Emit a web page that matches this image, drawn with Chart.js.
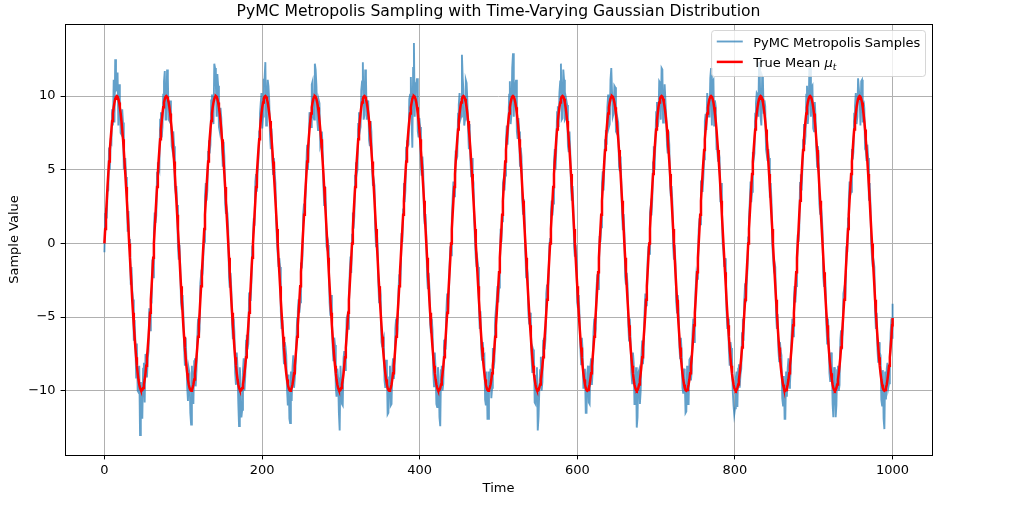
<!DOCTYPE html>
<html>
<head>
<meta charset="utf-8">
<script src="https://cdn.jsdelivr.net/npm/chart.js@4.4.1/dist/chart.umd.min.js"></script>
<style>
html,body{margin:0;padding:0;background:#ffffff;}
#wrap{width:1024px;height:519px;}
canvas{display:block;}
</style>
</head>
<body>
<div id="wrap"><canvas id="c" width="1024" height="519"></canvas></div>
<script>
// ---------------- DATA ----------------
const time = [
0,1.0,2.0,3.0,3.9,4.9,5.9,6.9,7.9,8.9,9.8,10.8,11.8,12.8,13.7,14.7,15.7,16.7,17.7,18.7,19.6,20.6,21.6,22.6,23.6,24.6,25.5,26.5,27.5,28.5,29.5,30.5,31.4,32.4,33.4,34.4,35.3,36.3,37.3,38.3,39.3,40.3,41.2,42.2,43.2,44.2,45.2,46.2,47.1,48.1,49.1,50.1,51.1,52.1,53.0,54.0,55.0,56.0,56.9,57.9,58.9,59.9,60.9,61.9,
62.8,63.8,64.8,65.8,66.8,67.8,68.7,69.7,70.7,71.7,72.7,73.7,74.6,75.6,76.6,77.6,78.5,79.5,80.5,81.5,82.5,83.5,84.4,85.4,86.4,87.4,88.4,89.4,90.3,91.3,92.3,93.3,94.3,95.3,96.2,97.2,98.2,99.2,100.1,101.1,102.1,103.1,104.1,105.1,106.0,107.0,108.0,109.0,110.0,111.0,111.9,112.9,113.9,114.9,115.8,116.8,117.8,118.8,119.8,120.8,121.7,122.7,123.7,124.7,
125.7,126.7,127.6,128.6,129.6,130.6,131.6,132.6,133.5,134.5,135.5,136.5,137.4,138.4,139.4,140.4,141.4,142.4,143.3,144.3,145.3,146.3,147.3,148.3,149.2,150.2,151.2,152.2,153.2,154.2,155.1,156.1,157.1,158.1,159.0,160.0,161.0,162.0,163.0,164.0,164.9,165.9,166.9,167.9,168.9,169.9,170.8,171.8,172.8,173.8,174.8,175.8,176.7,177.7,178.7,179.7,180.6,181.6,182.6,183.6,184.6,185.6,186.5,187.5,
188.5,189.5,190.5,191.5,192.4,193.4,194.4,195.4,196.4,197.4,198.3,199.3,200.3,201.3,202.2,203.2,204.2,205.2,206.2,207.2,208.1,209.1,210.1,211.1,212.1,213.1,214.0,215.0,216.0,217.0,218.0,219.0,219.9,220.9,221.9,222.9,223.8,224.8,225.8,226.8,227.8,228.8,229.7,230.7,231.7,232.7,233.7,234.7,235.6,236.6,237.6,238.6,239.6,240.6,241.5,242.5,243.5,244.5,245.4,246.4,247.4,248.4,249.4,250.4,
251.3,252.3,253.3,254.3,255.3,256.3,257.2,258.2,259.2,260.2,261.2,262.2,263.1,264.1,265.1,266.1,267.0,268.0,269.0,270.0,271.0,272.0,272.9,273.9,274.9,275.9,276.9,277.9,278.8,279.8,280.8,281.8,282.8,283.8,284.7,285.7,286.7,287.7,288.6,289.6,290.6,291.6,292.6,293.6,294.5,295.5,296.5,297.5,298.5,299.5,300.4,301.4,302.4,303.4,304.3,305.3,306.3,307.3,308.3,309.3,310.2,311.2,312.2,313.2,
314.2,315.2,316.1,317.1,318.1,319.1,320.1,321.1,322.0,323.0,324.0,325.0,325.9,326.9,327.9,328.9,329.9,330.9,331.8,332.8,333.8,334.8,335.8,336.8,337.7,338.7,339.7,340.7,341.7,342.7,343.6,344.6,345.6,346.6,347.5,348.5,349.5,350.5,351.5,352.5,353.4,354.4,355.4,356.4,357.4,358.4,359.3,360.3,361.3,362.3,363.3,364.3,365.2,366.2,367.2,368.2,369.1,370.1,371.1,372.1,373.1,374.1,375.0,376.0,
377.0,378.0,379.0,380.0,380.9,381.9,382.9,383.9,384.8,385.8,386.8,387.8,388.8,389.8,390.7,391.7,392.7,393.7,394.7,395.7,396.6,397.6,398.6,399.6,400.6,401.6,402.5,403.5,404.5,405.5,406.4,407.4,408.4,409.4,410.4,411.4,412.3,413.3,414.3,415.3,416.3,417.3,418.2,419.2,420.2,421.2,422.2,423.2,424.1,425.1,426.1,427.1,428.0,429.0,430.0,431.0,432.0,433.0,433.9,434.9,435.9,436.9,437.9,438.9,
439.8,440.8,441.8,442.8,443.8,444.8,445.7,446.7,447.7,448.7,449.6,450.6,451.6,452.6,453.6,454.6,455.5,456.5,457.5,458.5,459.5,460.5,461.4,462.4,463.4,464.4,465.4,466.4,467.3,468.3,469.3,470.3,471.2,472.2,473.2,474.2,475.2,476.2,477.1,478.1,479.1,480.1,481.1,482.1,483.0,484.0,485.0,486.0,486.9,487.9,488.9,489.9,490.9,491.9,492.8,493.8,494.8,495.8,496.8,497.8,498.7,499.7,500.7,501.7,
502.7,503.7,504.6,505.6,506.6,507.6,508.5,509.5,510.5,511.5,512.5,513.5,514.4,515.4,516.4,517.4,518.4,519.4,520.3,521.3,522.3,523.3,524.3,525.3,526.2,527.2,528.2,529.2,530.1,531.1,532.1,533.1,534.1,535.1,536.0,537.0,538.0,539.0,540.0,541.0,541.9,542.9,543.9,544.9,545.9,546.9,547.8,548.8,549.8,550.8,551.7,552.7,553.7,554.7,555.7,556.7,557.6,558.6,559.6,560.6,561.6,562.6,563.5,564.5,
565.5,566.5,567.5,568.5,569.4,570.4,571.4,572.4,573.3,574.3,575.3,576.3,577.3,578.3,579.2,580.2,581.2,582.2,583.2,584.2,585.1,586.1,587.1,588.1,589.1,590.1,591.0,592.0,593.0,594.0,594.9,595.9,596.9,597.9,598.9,599.9,600.8,601.8,602.8,603.8,604.8,605.8,606.7,607.7,608.7,609.7,610.7,611.7,612.6,613.6,614.6,615.6,616.5,617.5,618.5,619.5,620.5,621.5,622.4,623.4,624.4,625.4,626.4,627.4,
628.3,629.3,630.3,631.3,632.3,633.3,634.2,635.2,636.2,637.2,638.1,639.1,640.1,641.1,642.1,643.1,644.0,645.0,646.0,647.0,648.0,649.0,649.9,650.9,651.9,652.9,653.9,654.9,655.8,656.8,657.8,658.8,659.7,660.7,661.7,662.7,663.7,664.7,665.6,666.6,667.6,668.6,669.6,670.6,671.5,672.5,673.5,674.5,675.4,676.4,677.4,678.4,679.4,680.4,681.3,682.3,683.3,684.3,685.3,686.3,687.2,688.2,689.2,690.2,
691.2,692.2,693.1,694.1,695.1,696.1,697.0,698.0,699.0,700.0,701.0,702.0,702.9,703.9,704.9,705.9,706.9,707.9,708.8,709.8,710.8,711.8,712.8,713.8,714.7,715.7,716.7,717.7,718.6,719.6,720.6,721.6,722.6,723.6,724.5,725.5,726.5,727.5,728.5,729.5,730.4,731.4,732.4,733.4,734.4,735.4,736.3,737.3,738.3,739.3,740.2,741.2,742.2,743.2,744.2,745.2,746.1,747.1,748.1,749.1,750.1,751.1,752.0,753.0,
754.0,755.0,755.9,756.9,757.9,758.9,759.9,760.9,761.8,762.8,763.8,764.8,765.8,766.8,767.7,768.7,769.7,770.7,771.7,772.7,773.6,774.6,775.6,776.6,777.5,778.5,779.5,780.5,781.5,782.5,783.4,784.4,785.4,786.4,787.4,788.4,789.3,790.3,791.3,792.3,793.3,794.3,795.2,796.2,797.2,798.2,799.1,800.1,801.1,802.1,803.1,804.1,805.0,806.0,807.0,808.0,809.0,810.0,810.9,811.9,812.9,813.9,814.9,815.9,
816.8,817.8,818.8,819.8,820.7,821.7,822.7,823.7,824.7,825.7,826.6,827.6,828.6,829.6,830.6,831.6,832.5,833.5,834.5,835.5,836.4,837.4,838.4,839.4,840.4,841.4,842.3,843.3,844.3,845.3,846.3,847.3,848.2,849.2,850.2,851.2,852.2,853.2,854.1,855.1,856.1,857.1,858.0,859.0,860.0,861.0,862.0,863.0,863.9,864.9,865.9,866.9,867.9,868.9,869.8,870.8,871.8,872.8,873.8,874.8,875.7,876.7,877.7,878.7,
879.7,880.7,881.6,882.6,883.6,884.6,885.5,886.5,887.5,888.5,889.5,890.5,891.4,892.4,893.4,894.4,895.4,896.4,897.3,898.3,899.3,900.3,901.3,902.3,903.2,904.2,905.2,906.2,907.1,908.1,909.1,910.1,911.1,912.1,913.0,914.0,915.0,916.0,917.0,918.0,918.9,919.9,920.9,921.9,922.9,923.9,924.8,925.8,926.8,927.8,928.7,929.7,930.7,931.7,932.7,933.7,934.6,935.6,936.6,937.6,938.6,939.6,940.5,941.5,
942.5,943.5,944.4,945.4,946.4,947.4,948.4,949.4,950.3,951.3,952.3,953.3,954.3,955.3,956.2,957.2,958.2,959.2,960.2,961.2,962.1,963.1,964.1,965.1,966.0,967.0,968.0,969.0,970.0,971.0,971.9,972.9,973.9,974.9,975.9,976.9,977.8,978.8,979.8,980.8,981.8,982.8,983.7,984.7,985.7,986.7,987.6,988.6,989.6,990.6,991.6,992.6,993.5,994.5,995.5,996.5,997.5,998.5,999.4,1000
];

const samples = [
-0.6,2.0,2.4,1.7,3.5,3.6,6.5,5.0,6.9,6.8,9.1,8.0,11.1,8.2,12.5,10.4,10.5,11.6,8.0,10.8,9.8,7.5,7.4,9.1,8.2,5.1,5.1,5.8,4.5,3.9,0.8,2.2,0.3,0.0,-2.8,-1.6,-3.2,-3.8,-6.6,-5.2,-6.7,-9.1,-6.8,-10.0,-10.1,-8.3,-13.0,-9.4,-11.1,-11.9,-8.5,-8.1,-10.8,-7.5,-7.8,-9.1,-7.8,-7.3,-4.4,-5.9,-4.2,-4.0,-1.1,-2.3,
0.8,2.1,1.4,1.9,4.8,5.5,5.2,5.0,8.4,8.9,7.2,7.9,10.1,11.0,11.7,8.4,8.4,11.8,11.2,8.4,8.3,9.7,8.5,6.6,6.3,7.6,6.6,3.9,3.5,3.9,2.6,-0.2,-1.1,-0.1,-1.5,-4.0,-4.5,-3.5,-4.7,-7.0,-8.3,-6.4,-7.9,-9.8,-10.7,-8.5,-8.8,-11.5,-12.3,-8.3,-10.2,-10.9,-8.0,-7.8,-9.7,-8.6,-6.5,-5.1,-6.4,-5.8,-2.7,-2.1,-2.3,-2.0,
-0.5,0.1,3.2,4.1,2.9,3.6,6.2,7.0,6.1,6.7,9.7,10.1,8.7,8.1,12.2,11.9,10.8,8.6,11.5,10.7,7.9,7.6,9.2,8.5,6.5,5.2,6.9,5.9,2.7,2.0,2.4,2.0,0.9,-2.3,-3.0,-2.0,-3.1,-5.5,-6.5,-5.1,-6.0,-8.8,-9.6,-7.4,-8.4,-10.9,-12.4,-8.4,-9.4,-11.8,-11.3,-8.6,-7.8,-10.0,-9.0,-6.6,-6.2,-7.2,-6.8,-3.4,-3.3,-3.9,-2.6,-0.2,
0.4,1.7,1.2,4.2,4.7,3.5,4.9,5.7,7.6,8.8,9.5,10.2,7.8,8.6,11.1,11.2,12.3,8.0,9.2,11.1,10.7,9.7,7.3,6.4,7.8,5.6,4.7,5.8,4.8,4.1,1.5,0.0,-0.7,-1.6,-1.0,-1.6,-4.6,-5.8,-5.2,-7.2,-8.2,-6.7,-7.0,-7.6,-9.9,-11.0,-8.9,-11.9,-12.2,-8.7,-10.7,-8.5,-7.6,-9.8,-9.8,-8.5,-6.8,-5.1,-4.6,-3.8,-4.7,-4.0,-1.3,-1.7,
-0.9,2.1,2.7,1.9,3.4,5.5,6.7,5.0,6.3,8.9,8.6,7.9,10.8,11.0,8.6,8.4,12.2,11.8,10.7,8.4,7.7,9.7,9.5,6.6,6.8,7.6,6.4,3.9,2.6,3.9,2.9,-0.2,-0.4,-0.1,-1.2,-4.0,-4.9,-3.5,-5.0,-7.0,-8.0,-6.4,-6.9,-9.8,-10.4,-8.5,-9.1,-11.5,-12.7,-8.3,-9.3,-10.9,-11.0,-7.8,-7.3,-8.6,-8.1,-5.1,-4.9,-5.8,-4.4,-2.1,-0.9,-2.0,
0.6,2.1,1.0,1.9,4.6,5.5,4.7,5.0,8.1,8.9,7.6,7.9,10.4,11.0,12.3,8.4,8.7,11.8,11.4,8.4,9.4,9.7,7.0,6.6,8.3,7.6,5.0,3.9,4.3,3.9,1.0,-0.2,0.8,-0.1,-2.6,-4.0,-2.9,-3.5,-6.7,-7.0,-6.6,-6.4,-9.3,-9.8,-7.9,-8.5,-11.6,-11.5,-9.1,-8.3,-11.0,-10.9,-8.5,-7.8,-9.2,-8.6,-5.8,-5.1,-6.4,-5.8,-3.2,-2.1,-2.9,-2.0,
0.7,0.1,2.3,4.1,2.8,3.6,6.5,7.0,6.6,6.7,9.8,10.1,11.3,8.1,6.5,11.9,13.6,8.6,10.8,10.7,11.2,7.6,7.2,8.5,7.9,5.2,4.6,5.9,4.9,2.0,1.3,2.0,0.5,-2.3,-3.1,-2.0,-3.0,-5.5,-6.1,-5.1,-5.9,-8.8,-9.7,-7.4,-8.6,-10.9,-11.1,-8.4,-9.0,-11.8,-12.4,-8.6,-8.3,-10.0,-9.5,-6.6,-6.5,-7.2,-4.5,-3.4,-4.8,-3.9,-1.6,-0.2,
-0.8,1.7,3.0,4.2,3.2,3.5,6.3,5.7,5.9,8.8,9.4,10.2,8.4,8.6,12.8,11.2,10.4,8.0,8.4,11.1,10.9,9.7,7.8,6.4,8.1,5.6,4.5,5.8,4.5,4.1,1.6,0.0,-1.0,-1.6,-1.1,-1.6,-4.3,-5.8,-4.6,-7.2,-7.9,-6.7,-7.7,-7.6,-10.6,-11.0,-8.7,-11.9,-11.9,-8.7,-9.4,-8.5,-10.5,-9.8,-7.1,-8.5,-8.0,-5.1,-5.1,-3.8,-2.9,-4.0,-3.0,-1.7,
1.0,0.1,1.5,4.1,4.4,3.6,4.6,7.0,8.0,6.7,7.9,10.1,11.0,8.1,8.7,11.9,12.9,8.6,10.5,10.7,11.1,7.6,7.1,8.5,7.6,5.2,6.5,5.9,3.0,2.0,3.0,2.0,-0.6,-2.3,-1.6,-2.0,-4.8,-5.5,-4.7,-5.1,-7.7,-8.8,-7.2,-7.4,-10.8,-10.9,-9.0,-8.4,-12.7,-11.8,-10.1,-8.6,-7.7,-10.0,-9.4,-6.6,-6.4,-7.2,-6.5,-3.4,-2.8,-3.9,-2.5,-0.2,
0.3,2.1,2.9,1.9,2.7,5.5,6.4,5.0,6.4,8.9,9.3,7.9,10.2,11.0,12.2,8.4,8.5,11.8,11.1,8.4,8.5,9.7,9.4,6.6,6.2,7.6,6.3,3.9,2.9,3.9,2.6,-0.2,-0.9,-0.1,-0.9,-4.0,-4.4,-3.5,-4.9,-7.0,-8.2,-6.4,-7.3,-9.8,-9.8,-8.5,-11.5,-11.5,-8.8,-8.3,-10.8,-10.9,-8.4,-7.8,-9.6,-8.6,-6.0,-5.1,-6.2,-5.8,-3.0,-2.1,-3.1,-2.0,
0.5,0.1,1.1,4.1,4.9,3.6,5.1,7.0,7.7,6.7,9.2,10.1,7.9,8.1,11.1,11.9,11.9,8.6,8.8,10.7,10.6,7.6,7.5,8.5,8.2,5.2,4.9,5.9,4.2,2.0,0.9,2.0,0.7,-2.3,-2.8,-2.0,-2.8,-5.5,-6.6,-5.1,-6.7,-8.8,-9.5,-7.4,-8.1,-10.9,-10.9,-8.4,-12.5,-11.8,-8.8,-8.6,-10.9,-10.0,-7.7,-6.6,-8.2,-7.2,-4.7,-3.4,-4.2,-3.9,-1.2,-0.2,
-0.7,2.1,2.5,1.9,3.0,5.5,6.6,5.0,6.7,8.9,9.6,7.9,8.3,11.0,10.9,8.4,11.9,11.8,8.2,8.4,10.8,9.7,8.6,6.6,6.1,7.6,6.7,3.9,3.2,3.9,2.8,-0.2,-1.1,-0.1,-1.4,-4.0,-4.7,-3.5,-4.5,-7.0,-7.8,-6.4,-7.4,-9.8,-10.2,-8.5,-9.2,-11.5,-11.4,-8.3,-10.9,-10.9,-7.9,-7.8,-9.3,-8.6,-6.2,-5.1,-6.7,-5.8,-3.1,-2.1,-2.4,-2.0,
0.9,1.7,1.3,4.2,4.3,3.5,4.5,5.7,8.3,8.8,7.7,10.2,10.2,8.6,8.6,11.2,11.9,8.0,11.0,11.1,8.0,9.7,9.3,6.4,6.4,5.6,6.2,5.8,2.8,4.1,2.7,0.0,-0.5,-1.6,-1.0,-1.6,-4.5,-5.8,-5.1,-7.2,-8.3,-6.7,-7.1,-7.6,-10.0,-11.0,-11.6,-11.2,-9.1,-8.7,-11.1,-8.5,-8.2,-9.8,-8.9,-8.5,-6.1,-5.1,-6.6,-3.8,-2.7,-4.0,-2.8,-1.7,
0.4,1.7,2.8,4.2,2.8,3.5,6.2,5.7,6.1,8.8,9.5,10.2,10.1,8.6,12.3,11.2,8.6,8.0,11.3,11.1,8.8,9.7,9.3,6.4,6.0,5.6,6.4,5.8,3.1,4.1,3.0,0.0,-0.8,-1.6,-1.3,-1.6,-4.9,-5.8,-4.8,-7.2,-8.0,-6.7,-7.3,-7.6,-10.5,-11.0,-9.0,-11.9,-11.9,-8.7,-10.4,-8.5,-7.8,-9.8,-9.5,-8.5,-6.3,-5.1,-6.3,-3.8,-2.9,-4.0,-2.9,-1.7,
0.6,0.1,1.0,4.1,4.7,3.6,5.0,7.0,8.1,6.7,7.3,10.1,10.7,8.1,8.9,11.9,11.9,8.6,10.6,10.7,7.8,7.6,9.6,8.5,6.6,5.2,6.6,5.9,2.7,2.0,2.5,2.0,0.9,-2.3,-2.9,-2.0,-3.0,-5.5,-6.8,-5.1,-6.4,-8.8,-9.4,-7.4,-8.0,-10.9,-11.8,-8.4,-9.3,-11.8,-11.0,-8.6,-8.3,-10.0,-9.6,-6.6,-5.9,-7.2,-6.2,-3.4,-3.1,-3.9,-3.0,-0.2,
-0.6,1.7,2.9,4.2,3.3,3.5,6.4,5.7,6.2,8.8,9.3,10.2,8.1,8.6,11.2,11.2,9.8,8.0,11.0,11.1,8.2,9.7,9.2,6.4,6.3,5.6,6.7,5.8,2.9,4.1,2.6,0.0,-1.0,-1.6,-1.2,-1.6,-4.6,-5.8,-4.7,-7.2,-8.1,-6.7,-7.4,-7.6,-10.6,-11.0,-8.6,-11.9,-12.6,-8.7,-10.6,-8.5,-8.1,-9.8,-9.5,-8.5,-6.1,-5.1,-6.4,-4.1
];

const trueMean = [
0,0.98,1.95,2.90,3.83,4.71,5.56,6.34,7.07,7.73,8.31,8.82,9.24,9.57,9.81,9.95,10,9.95,9.81,9.57,9.24,8.82,8.31,7.73,7.07,6.34,5.56,4.71,3.83,2.90,1.95,0.98,0,-0.98,-1.95,-2.90,-3.83,-4.71,-5.56,-6.34,-7.07,-7.73,-8.31,-8.82,-9.24,-9.57,-9.81,-9.95,-10,-9.95,-9.81,-9.57,-9.24,-8.82,-8.31,-7.73,-7.07,-6.34,-5.56,-4.71,-3.83,-2.90,-1.95,-0.98,
0,0.98,1.95,2.90,3.83,4.71,5.56,6.34,7.07,7.73,8.31,8.82,9.24,9.57,9.81,9.95,10,9.95,9.81,9.57,9.24,8.82,8.31,7.73,7.07,6.34,5.56,4.71,3.83,2.90,1.95,0.98,0,-0.98,-1.95,-2.90,-3.83,-4.71,-5.56,-6.34,-7.07,-7.73,-8.31,-8.82,-9.24,-9.57,-9.81,-9.95,-10,-9.95,-9.81,-9.57,-9.24,-8.82,-8.31,-7.73,-7.07,-6.34,-5.56,-4.71,-3.83,-2.90,-1.95,-0.98,
0,0.98,1.95,2.90,3.83,4.71,5.56,6.34,7.07,7.73,8.31,8.82,9.24,9.57,9.81,9.95,10,9.95,9.81,9.57,9.24,8.82,8.31,7.73,7.07,6.34,5.56,4.71,3.83,2.90,1.95,0.98,0,-0.98,-1.95,-2.90,-3.83,-4.71,-5.56,-6.34,-7.07,-7.73,-8.31,-8.82,-9.24,-9.57,-9.81,-9.95,-10,-9.95,-9.81,-9.57,-9.24,-8.82,-8.31,-7.73,-7.07,-6.34,-5.56,-4.71,-3.83,-2.90,-1.95,-0.98,
0,0.98,1.95,2.90,3.83,4.71,5.56,6.34,7.07,7.73,8.31,8.82,9.24,9.57,9.81,9.95,10,9.95,9.81,9.57,9.24,8.82,8.31,7.73,7.07,6.34,5.56,4.71,3.83,2.90,1.95,0.98,0,-0.98,-1.95,-2.90,-3.83,-4.71,-5.56,-6.34,-7.07,-7.73,-8.31,-8.82,-9.24,-9.57,-9.81,-9.95,-10,-9.95,-9.81,-9.57,-9.24,-8.82,-8.31,-7.73,-7.07,-6.34,-5.56,-4.71,-3.83,-2.90,-1.95,-0.98,
0,0.98,1.95,2.90,3.83,4.71,5.56,6.34,7.07,7.73,8.31,8.82,9.24,9.57,9.81,9.95,10,9.95,9.81,9.57,9.24,8.82,8.31,7.73,7.07,6.34,5.56,4.71,3.83,2.90,1.95,0.98,0,-0.98,-1.95,-2.90,-3.83,-4.71,-5.56,-6.34,-7.07,-7.73,-8.31,-8.82,-9.24,-9.57,-9.81,-9.95,-10,-9.95,-9.81,-9.57,-9.24,-8.82,-8.31,-7.73,-7.07,-6.34,-5.56,-4.71,-3.83,-2.90,-1.95,-0.98,
0,0.98,1.95,2.90,3.83,4.71,5.56,6.34,7.07,7.73,8.31,8.82,9.24,9.57,9.81,9.95,10,9.95,9.81,9.57,9.24,8.82,8.31,7.73,7.07,6.34,5.56,4.71,3.83,2.90,1.95,0.98,0,-0.98,-1.95,-2.90,-3.83,-4.71,-5.56,-6.34,-7.07,-7.73,-8.31,-8.82,-9.24,-9.57,-9.81,-9.95,-10,-9.95,-9.81,-9.57,-9.24,-8.82,-8.31,-7.73,-7.07,-6.34,-5.56,-4.71,-3.83,-2.90,-1.95,-0.98,
0,0.98,1.95,2.90,3.83,4.71,5.56,6.34,7.07,7.73,8.31,8.82,9.24,9.57,9.81,9.95,10,9.95,9.81,9.57,9.24,8.82,8.31,7.73,7.07,6.34,5.56,4.71,3.83,2.90,1.95,0.98,0,-0.98,-1.95,-2.90,-3.83,-4.71,-5.56,-6.34,-7.07,-7.73,-8.31,-8.82,-9.24,-9.57,-9.81,-9.95,-10,-9.95,-9.81,-9.57,-9.24,-8.82,-8.31,-7.73,-7.07,-6.34,-5.56,-4.71,-3.83,-2.90,-1.95,-0.98,
0,0.98,1.95,2.90,3.83,4.71,5.56,6.34,7.07,7.73,8.31,8.82,9.24,9.57,9.81,9.95,10,9.95,9.81,9.57,9.24,8.82,8.31,7.73,7.07,6.34,5.56,4.71,3.83,2.90,1.95,0.98,0,-0.98,-1.95,-2.90,-3.83,-4.71,-5.56,-6.34,-7.07,-7.73,-8.31,-8.82,-9.24,-9.57,-9.81,-9.95,-10,-9.95,-9.81,-9.57,-9.24,-8.82,-8.31,-7.73,-7.07,-6.34,-5.56,-4.71,-3.83,-2.90,-1.95,-0.98,
0,0.98,1.95,2.90,3.83,4.71,5.56,6.34,7.07,7.73,8.31,8.82,9.24,9.57,9.81,9.95,10,9.95,9.81,9.57,9.24,8.82,8.31,7.73,7.07,6.34,5.56,4.71,3.83,2.90,1.95,0.98,0,-0.98,-1.95,-2.90,-3.83,-4.71,-5.56,-6.34,-7.07,-7.73,-8.31,-8.82,-9.24,-9.57,-9.81,-9.95,-10,-9.95,-9.81,-9.57,-9.24,-8.82,-8.31,-7.73,-7.07,-6.34,-5.56,-4.71,-3.83,-2.90,-1.95,-0.98,
0,0.98,1.95,2.90,3.83,4.71,5.56,6.34,7.07,7.73,8.31,8.82,9.24,9.57,9.81,9.95,10,9.95,9.81,9.57,9.24,8.82,8.31,7.73,7.07,6.34,5.56,4.71,3.83,2.90,1.95,0.98,0,-0.98,-1.95,-2.90,-3.83,-4.71,-5.56,-6.34,-7.07,-7.73,-8.31,-8.82,-9.24,-9.57,-9.81,-9.95,-10,-9.95,-9.81,-9.57,-9.24,-8.82,-8.31,-7.73,-7.07,-6.34,-5.56,-4.71,-3.83,-2.90,-1.95,-0.98,
0,0.98,1.95,2.90,3.83,4.71,5.56,6.34,7.07,7.73,8.31,8.82,9.24,9.57,9.81,9.95,10,9.95,9.81,9.57,9.24,8.82,8.31,7.73,7.07,6.34,5.56,4.71,3.83,2.90,1.95,0.98,0,-0.98,-1.95,-2.90,-3.83,-4.71,-5.56,-6.34,-7.07,-7.73,-8.31,-8.82,-9.24,-9.57,-9.81,-9.95,-10,-9.95,-9.81,-9.57,-9.24,-8.82,-8.31,-7.73,-7.07,-6.34,-5.56,-4.71,-3.83,-2.90,-1.95,-0.98,
0,0.98,1.95,2.90,3.83,4.71,5.56,6.34,7.07,7.73,8.31,8.82,9.24,9.57,9.81,9.95,10,9.95,9.81,9.57,9.24,8.82,8.31,7.73,7.07,6.34,5.56,4.71,3.83,2.90,1.95,0.98,0,-0.98,-1.95,-2.90,-3.83,-4.71,-5.56,-6.34,-7.07,-7.73,-8.31,-8.82,-9.24,-9.57,-9.81,-9.95,-10,-9.95,-9.81,-9.57,-9.24,-8.82,-8.31,-7.73,-7.07,-6.34,-5.56,-4.71,-3.83,-2.90,-1.95,-0.98,
0,0.98,1.95,2.90,3.83,4.71,5.56,6.34,7.07,7.73,8.31,8.82,9.24,9.57,9.81,9.95,10,9.95,9.81,9.57,9.24,8.82,8.31,7.73,7.07,6.34,5.56,4.71,3.83,2.90,1.95,0.98,0,-0.98,-1.95,-2.90,-3.83,-4.71,-5.56,-6.34,-7.07,-7.73,-8.31,-8.82,-9.24,-9.57,-9.81,-9.95,-10,-9.95,-9.81,-9.57,-9.24,-8.82,-8.31,-7.73,-7.07,-6.34,-5.56,-4.71,-3.83,-2.90,-1.95,-0.98,
0,0.98,1.95,2.90,3.83,4.71,5.56,6.34,7.07,7.73,8.31,8.82,9.24,9.57,9.81,9.95,10,9.95,9.81,9.57,9.24,8.82,8.31,7.73,7.07,6.34,5.56,4.71,3.83,2.90,1.95,0.98,0,-0.98,-1.95,-2.90,-3.83,-4.71,-5.56,-6.34,-7.07,-7.73,-8.31,-8.82,-9.24,-9.57,-9.81,-9.95,-10,-9.95,-9.81,-9.57,-9.24,-8.82,-8.31,-7.73,-7.07,-6.34,-5.56,-4.71,-3.83,-2.90,-1.95,-0.98,
0,0.98,1.95,2.90,3.83,4.71,5.56,6.34,7.07,7.73,8.31,8.82,9.24,9.57,9.81,9.95,10,9.95,9.81,9.57,9.24,8.82,8.31,7.73,7.07,6.34,5.56,4.71,3.83,2.90,1.95,0.98,0,-0.98,-1.95,-2.90,-3.83,-4.71,-5.56,-6.34,-7.07,-7.73,-8.31,-8.82,-9.24,-9.57,-9.81,-9.95,-10,-9.95,-9.81,-9.57,-9.24,-8.82,-8.31,-7.73,-7.07,-6.34,-5.56,-4.71,-3.83,-2.90,-1.95,-0.98,
0,0.98,1.95,2.90,3.83,4.71,5.56,6.34,7.07,7.73,8.31,8.82,9.24,9.57,9.81,9.95,10,9.95,9.81,9.57,9.24,8.82,8.31,7.73,7.07,6.34,5.56,4.71,3.83,2.90,1.95,0.98,0,-0.98,-1.95,-2.90,-3.83,-4.71,-5.56,-6.34,-7.07,-7.73,-8.31,-8.82,-9.24,-9.57,-9.81,-9.95,-10,-9.95,-9.81,-9.57,-9.24,-8.82,-8.31,-7.73,-7.07,-6.34,-5.56,-5.06
];

const timeTicks = [0, 200, 400, 600, 800, 1000];
const valueTicks = [-10, -5, 0, 5, 10];

const chartTitle = 'PyMC Metropolis Sampling with Time-Varying Gaussian Distribution';
const xLabel = 'Time';
const yLabel = 'Sample Value';
const sampleLabel = 'PyMC Metropolis Samples';
const meanLabel = 'True Mean ';
const meanSymbol = 'μ';
const meanSubscript = 't';

// ---------------- STYLE ----------------
const FONT = "'DejaVu Sans', 'Liberation Sans', sans-serif";
const FS = 13;
const SAMPLE_COLOR = 'rgba(31,119,180,0.7)';
const MEAN_COLOR = '#ff0000';

const fmtTick = v => (v < 0 ? '\u2212' + Math.abs(v) : String(v));

const framePlugin = {
  id: 'frame',
  afterDatasetsDraw(chart) {
    const {ctx, chartArea: a} = chart;
    ctx.save();
    ctx.strokeStyle = '#000';
    ctx.lineWidth = 1;
    ctx.strokeRect(Math.round(a.left) + 0.5, Math.round(a.top) + 0.5,
                   Math.round(a.right - a.left), Math.round(a.bottom - a.top));
    ctx.restore();
  }
};

const legendPlugin = {
  id: 'mplLegend',
  afterDraw(chart) {
    const {ctx, chartArea: a} = chart;
    const ds = chart.data.datasets;
    ctx.save();
    const pad = 0.4 * FS, handle = 2 * FS, hpad = 0.8 * FS, axpad = 0.5 * FS;
    ctx.font = FS + 'px ' + FONT;
    const w1 = ctx.measureText(sampleLabel).width;
    const wBase = ctx.measureText(meanLabel).width;
    ctx.font = 'italic ' + FS + 'px ' + FONT;
    const wMu = ctx.measureText(meanSymbol).width;
    ctx.font = 'italic ' + (FS * 0.7) + 'px ' + FONT;
    const wSub = ctx.measureText(meanSubscript).width;
    const textW = Math.max(w1, wBase + wMu + wSub);
    const boxW = pad + handle + hpad + textW + pad;
    const boxH = 46;
    const right = a.right - axpad, top = a.top + axpad, left = right - boxW;
    const r = 3;
    ctx.beginPath();
    ctx.moveTo(left + r, top);
    ctx.lineTo(right - r, top);
    ctx.arcTo(right, top, right, top + r, r);
    ctx.lineTo(right, top + boxH - r);
    ctx.arcTo(right, top + boxH, right - r, top + boxH, r);
    ctx.lineTo(left + r, top + boxH);
    ctx.arcTo(left, top + boxH, left, top + boxH - r, r);
    ctx.lineTo(left, top + r);
    ctx.arcTo(left, top, left + r, top, r);
    ctx.closePath();
    ctx.fillStyle = 'rgba(255,255,255,0.8)';
    ctx.fill();
    ctx.strokeStyle = 'rgba(204,204,204,0.8)';
    ctx.lineWidth = 1;
    ctx.stroke();

    const hx0 = left + pad, hx1 = hx0 + handle, tx = hx1 + hpad;
    const lineY = [top + 11, top + 31.4];
    const baseY = [top + 16.4, top + 36.8];
    ctx.beginPath();
    ctx.moveTo(hx0, lineY[0]); ctx.lineTo(hx1, lineY[0]);
    ctx.strokeStyle = ds[0].borderColor; ctx.lineWidth = ds[0].borderWidth;
    ctx.stroke();
    ctx.fillStyle = '#000';
    ctx.textBaseline = 'alphabetic';
    ctx.textAlign = 'left';
    ctx.font = FS + 'px ' + FONT;
    ctx.fillText(sampleLabel, tx, baseY[0]);
    ctx.beginPath();
    ctx.moveTo(hx0, lineY[1]); ctx.lineTo(hx1, lineY[1]);
    ctx.strokeStyle = ds[1].borderColor; ctx.lineWidth = ds[1].borderWidth;
    ctx.stroke();
    ctx.font = FS + 'px ' + FONT;
    ctx.fillText(meanLabel, tx, baseY[1]);
    ctx.font = 'italic ' + FS + 'px ' + FONT;
    ctx.fillText(meanSymbol, tx + wBase, baseY[1]);
    ctx.font = 'italic ' + (FS * 0.7) + 'px ' + FONT;
    ctx.fillText(meanSubscript, tx + wBase + wMu, baseY[1] + 2.7);
    ctx.restore();
  }
};

if (time.length !== samples.length || time.length !== trueMean.length) {
  console.warn('length mismatch', time.length, samples.length, trueMean.length);
}

new Chart(document.getElementById('c'), {
  type: 'line',
  data: {
    datasets: [
      {
        label: sampleLabel,
        data: time.map((t, i) => ({x: t, y: samples[i]})),
        borderColor: SAMPLE_COLOR,
        borderWidth: 1.875,
        pointRadius: 0,
        tension: 0,
        fill: false,
        order: 2
      },
      {
        label: meanLabel + meanSymbol + meanSubscript,
        data: time.map((t, i) => ({x: t, y: trueMean[i]})),
        borderColor: MEAN_COLOR,
        borderWidth: 2.5,
        pointRadius: 0,
        tension: 0,
        fill: false,
        order: 1
      }
    ]
  },
  options: {
    responsive: false,
    animation: false,
    devicePixelRatio: 1,
    events: [],
    layout: {padding: {left: 0, right: 92, top: 0, bottom: 0}},
    plugins: {
      legend: {display: false},
      tooltip: {enabled: false},
      title: {
        display: true,
        text: chartTitle,
        fullSize: false,
        color: '#000',
        font: {family: FONT, size: 15.6, weight: 'normal', lineHeight: 1.2},
        padding: {top: 2.94, bottom: 2.34}
      }
    },
    scales: {
      x: {
        type: 'linear',
        min: -50,
        max: 1050,
        afterBuildTicks: s => { s.ticks = timeTicks.map(v => ({value: v})); },
        afterFit: s => { s.height = 64; },
        grid: {color: '#b0b0b0', lineWidth: 1, tickColor: '#000', tickLength: 4.4, tickWidth: 1},
        border: {display: false},
        ticks: {color: '#000', font: {family: FONT, size: FS}, padding: 3.1, maxRotation: 0, autoSkip: false,
                callback: v => fmtTick(v)},
        title: {display: true, text: xLabel, color: '#000',
                font: {family: FONT, size: FS, lineHeight: 1.2}, padding: {top: 0, bottom: 22.9}}
      },
      y: {
        type: 'linear',
        min: -14.36,
        max: 14.89,
        afterBuildTicks: s => { s.ticks = valueTicks.map(v => ({value: v})); },
        afterFit: s => { s.width = 65; },
        grid: {color: '#b0b0b0', lineWidth: 1, tickColor: '#000', tickLength: 4.4, tickWidth: 1},
        border: {display: false},
        ticks: {color: '#000', font: {family: FONT, size: FS}, padding: 5, autoSkip: false,
                callback: v => fmtTick(v)},
        title: {display: true, text: yLabel, color: '#000',
                font: {family: FONT, size: FS, lineHeight: 1.2}, padding: {top: 7.2, bottom: 0}}
      }
    }
  },
  plugins: [framePlugin, legendPlugin]
});
</script>
</body>
</html>
